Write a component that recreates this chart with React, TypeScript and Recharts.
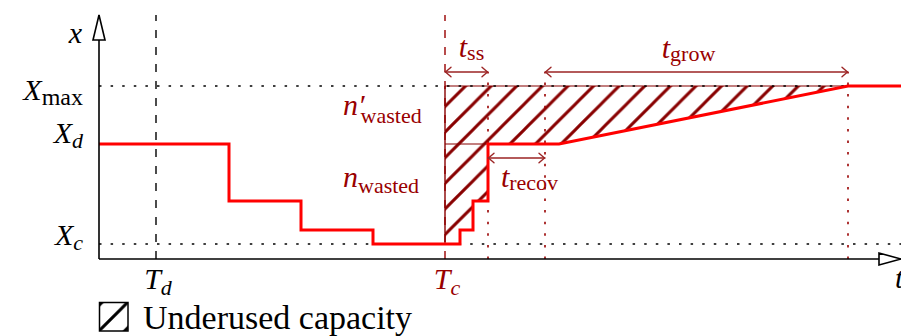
import { ComposedChart, XAxis, YAxis, Line, Area, ReferenceLine, ReferenceDot } from 'recharts';

// capacity levels (y units) and the two marked instants (t units)
const levelValues = [7.5, 57.5, 86.5];
const levelSubs = ['c', 'd', 'max'];
const markTimes = [5.7, 34.6];
const markSubs = ['d', 'c'];

// ends of t_ss, t_recov, t_grow
const phaseEnds = [38.9, 44.6, 74.9];

// red capacity trace (steps written out as pairs)
const redTimes = [0, 13.0, 13.0, 20.2, 20.2, 27.4, 27.4, 36.1, 36.1, 37.4, 37.4, 38.9, 38.9, 46.0, 74.9, 80.2];
const redLevels = [57.5, 57.5, 29, 29, 14.5, 14.5, 7.5, 7.5, 14.5, 14.5, 29, 29, 57.5, 57.5, 86.5, 86.5];

const T_MAX = 80.2;
const V_MAX = 122;

const [X_C, X_D, X_MAX] = levelValues;
const [T_D, T_C] = markTimes;
const [T_SS, T_RECOV, T_GROW] = phaseEnds;

const redData = redTimes.map((t, i) => ({ t, v: redLevels[i] }));
const hatchData = redData
  .filter((d) => d.t >= T_C && d.t <= T_GROW)
  .map((d) => ({ t: d.t, range: [d.v, X_MAX] }));
hatchData.unshift({ t: T_C, range: [X_C, X_MAX] });

const FONT = '"Liberation Serif", "DejaVu Serif", serif';
const DARK = '#990000';
const HATCH = '#880000';
const ARROW = '#9c2525';

function MathText({ x, y, base, sub, subItalic, prime, anchor = 'start', color = '#000', size = 30, subSize = 22, subDy = 6 }: any) {
  return (
    <text x={x} y={y} textAnchor={anchor} fill={color} style={{ fontFamily: FONT, fontSize: size }}>
      <tspan style={{ fontStyle: 'italic' }}>{base}</tspan>
      {prime && <tspan style={{ fontStyle: 'italic' }}>′</tspan>}
      <tspan style={{ fontSize: subSize, fontStyle: subItalic ? 'italic' : 'normal' }} dx={prime ? -4 : 0} dy={subDy}>
        {sub}
      </tspan>
    </text>
  );
}

const levelDy = [1, -1, 14];

function LevelTick({ x, y, payload }: any) {
  const i = levelValues.indexOf(payload.value);
  if (i < 0) return null;
  const isMax = levelSubs[i] === 'max';
  return (
    <MathText
      x={x}
      y={y + levelDy[i]}
      base="X"
      sub={levelSubs[i]}
      subItalic={!isMax}
      anchor="end"
      subSize={isMax ? 24 : 22}
      subDy={5}
    />
  );
}

function TimeTick({ x, y, payload }: any) {
  const i = markTimes.indexOf(payload.value);
  if (i < 0) return null;
  return (
    <MathText
      x={x + 2}
      y={y + 28}
      base="T"
      sub={markSubs[i]}
      subItalic
      anchor="middle"
      color={i === 1 ? DARK : '#000'}
      subDy={6}
    />
  );
}

function DimArrow({ x1, y1, x2, y2 }: any) {
  const a = 6;
  return (
    <g stroke={ARROW} strokeWidth={1.4} fill="none" strokeLinecap="round" strokeLinejoin="round">
      <line x1={x1} y1={y1} x2={x2} y2={y2} />
      <path d={`M${x1 + a},${y1 - a * 0.8} L${x1 + 0.5},${y1} L${x1 + a},${y1 + a * 0.8}`} />
      <path d={`M${x2 - a},${y2 - a * 0.8} L${x2 - 0.5},${y2} L${x2 - a},${y2 + a * 0.8}`} />
    </g>
  );
}

const dotted = { stroke: '#000', strokeWidth: 1.6, strokeDasharray: '2.5 9.1' };
const dottedRed = { stroke: DARK, strokeWidth: 1.6, strokeDasharray: '2.5 9.1' };

export default function App() {
  return (
    <div style={{ position: 'absolute', left: 0, top: 0, width: 901, height: 336, background: '#fff' }}>
      <ComposedChart width={901} height={336} margin={{ top: 15, right: 0, bottom: 0, left: 0 }}>
        <XAxis
          type="number"
          dataKey="t"
          domain={[0, T_MAX]}
          ticks={markTimes}
          tick={<TimeTick />}
          tickLine={false}
          tickSize={0}
          height={77}
          axisLine={{ stroke: '#000', strokeWidth: 1.6 }}
        />
        <YAxis
          type="number"
          domain={[0, V_MAX]}
          ticks={levelValues}
          tick={<LevelTick />}
          tickLine={false}
          tickSize={0}
          tickMargin={16}
          width={99}
          axisLine={{ stroke: '#000', strokeWidth: 1.6 }}
        />

        <ReferenceLine y={X_C} {...dotted} ifOverflow="visible" />
        <ReferenceLine y={X_MAX} {...dotted} ifOverflow="visible" />
        <ReferenceLine x={T_D} stroke="#000" strokeWidth={1.4} strokeDasharray="8 9" />

        <Area
          data={hatchData}
          dataKey="range"
          type="linear"
          fill="url(#hatch)"
          fillOpacity={1}
          stroke={HATCH}
          strokeWidth={1.2}
          isAnimationActive={false}
          activeDot={false}
          dot={false}
        />

        <ReferenceLine x={T_C} stroke={DARK} strokeWidth={1.4} strokeDasharray="8 9" />
        <ReferenceLine segment={[{ x: T_C, y: X_C }, { x: T_C, y: X_MAX }]} stroke={HATCH} strokeWidth={1.4} />
        <ReferenceLine segment={[{ x: T_C, y: X_D }, { x: T_SS, y: X_D }]} stroke={HATCH} strokeWidth={1.2} />

        {phaseEnds.map((t) => (
          <ReferenceLine key={t} segment={[{ x: t, y: 0 }, { x: t, y: 93.5 }]} {...dottedRed} />
        ))}

        <Line
          data={redData}
          dataKey="v"
          type="linear"
          stroke="#ff0000"
          strokeWidth={3}
          dot={false}
          activeDot={false}
          isAnimationActive={false}
          strokeLinejoin="miter"
        />

        <ReferenceLine segment={[{ x: T_C, y: 93.5 }, { x: T_SS, y: 93.5 }]} shape={(p: any) => <DimArrow {...p} />} />
        <ReferenceLine segment={[{ x: T_RECOV, y: 93.5 }, { x: T_GROW, y: 93.5 }]} shape={(p: any) => <DimArrow {...p} />} />
        <ReferenceLine segment={[{ x: T_SS, y: 50.5 }, { x: T_RECOV, y: 50.5 }]} shape={(p: any) => <DimArrow {...p} />} />

        <ReferenceDot
          x={(T_C + T_SS) / 2}
          y={93.5}
          r={1}
          ifOverflow="visible"
          shape={(p: any) => <MathText x={p.cx + 5} y={p.cy - 15} base="t" sub="ss" anchor="middle" color={DARK} subDy={3} />}
        />
        <ReferenceDot
          x={(T_RECOV + T_GROW) / 2}
          y={93.5}
          r={1}
          ifOverflow="visible"
          shape={(p: any) => <MathText x={p.cx - 8} y={p.cy - 14} base="t" sub="grow" anchor="middle" color={DARK} subDy={3} />}
        />
        <ReferenceDot
          x={(T_SS + T_RECOV) / 2}
          y={50.5}
          r={1}
          ifOverflow="visible"
          shape={(p: any) => <MathText x={p.cx + 13} y={p.cy + 29} base="t" sub="recov" anchor="middle" color={DARK} subDy={3} />}
        />
        <ReferenceDot
          x={T_C}
          y={X_MAX}
          r={1}
          ifOverflow="visible"
          shape={(p: any) => <MathText x={p.cx - 102} y={p.cy + 29} base="n" sub="wasted" prime anchor="start" color={DARK} subDy={8} />}
        />
        <ReferenceDot
          x={T_C}
          y={X_D}
          r={1}
          ifOverflow="visible"
          shape={(p: any) => <MathText x={p.cx - 102} y={p.cy + 43} base="n" sub="wasted" anchor="start" color={DARK} subDy={6} />}
        />

        <ReferenceDot
          x={0}
          y={V_MAX}
          r={1}
          ifOverflow="visible"
          shape={(p: any) => (
            <g>
              <polygon points={`${p.cx},${p.cy} ${p.cx - 6},${p.cy + 25} ${p.cx + 6},${p.cy + 25}`} fill="#fff" stroke="#000" strokeWidth={1.6} />
              <text x={p.cx - 17} y={p.cy + 28} textAnchor="end" style={{ fontFamily: FONT, fontSize: 30, fontStyle: 'italic' }}>x</text>
            </g>
          )}
        />
        <ReferenceDot
          x={T_MAX}
          y={0}
          r={1}
          ifOverflow="visible"
          shape={(p: any) => (
            <g>
              <polygon points={`${p.cx},${p.cy} ${p.cx - 22},${p.cy - 6} ${p.cx - 22},${p.cy + 6}`} fill="#fff" stroke="#000" strokeWidth={1.6} />
              <text x={p.cx - 6} y={p.cy + 29} style={{ fontFamily: FONT, fontSize: 30, fontStyle: 'italic' }}>t</text>
            </g>
          )}
        />
      </ComposedChart>

      <svg width={901} height={336} style={{ position: 'absolute', left: 0, top: 0, pointerEvents: 'none' }}>
        <defs>
          <pattern id="hatch" patternUnits="userSpaceOnUse" x={13.9} y={0} width={25.6} height={25.6}>
            <path d="M-2,2 L2,-2 M0,25.6 L25.6,0 M23.6,27.6 L27.6,23.6" stroke={HATCH} strokeWidth={3} />
          </pattern>
          <pattern id="hatchKey" patternUnits="userSpaceOnUse" x={20.4} y={0} width={25.6} height={25.6}>
            <path d="M-2,2 L2,-2 M0,25.6 L25.6,0 M23.6,27.6 L27.6,23.6" stroke="#000" strokeWidth={3} />
          </pattern>
        </defs>
        <rect x={99.5} y={302.5} width={28.5} height={28.5} fill="url(#hatchKey)" stroke="#000" strokeWidth={1.5} />
        <text x={143} y={329} style={{ fontFamily: FONT, fontSize: 34 }} fill="#000">
          Underused capacity
        </text>
      </svg>
    </div>
  );
}
